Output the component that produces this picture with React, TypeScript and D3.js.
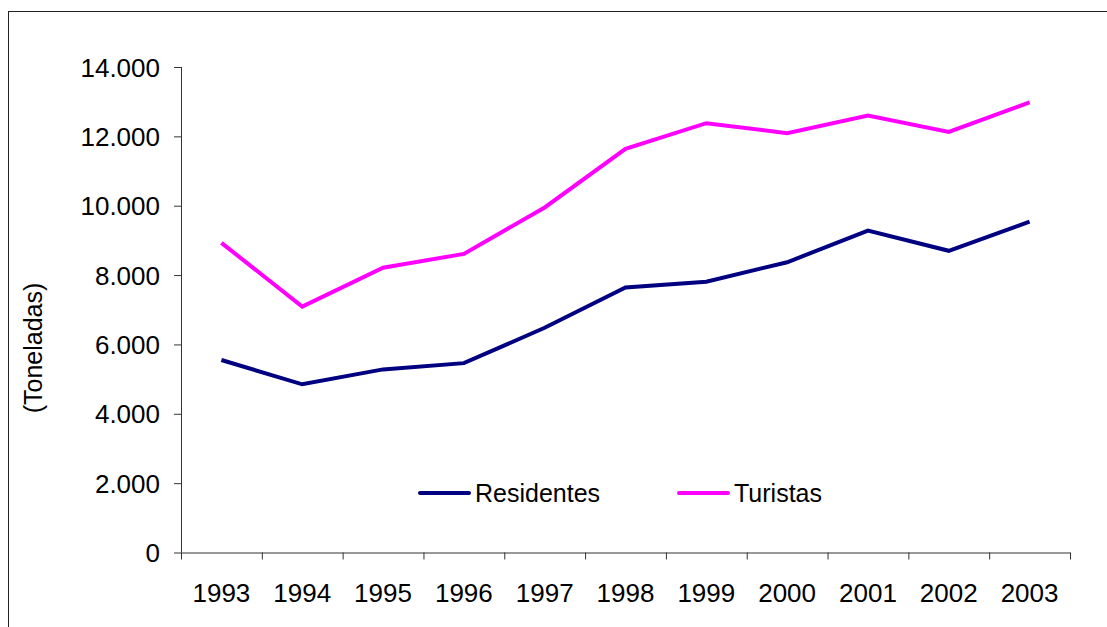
import React from 'react';
import * as d3 from 'd3';

const years = ['1993', '1994', '1995', '1996', '1997', '1998', '1999', '2000', '2001', '2002', '2003'];
const residentes = [5550, 4850, 5280, 5460, 6480, 7640, 7810, 8370, 9280, 8700, 9540];
const turistas = [8930, 7090, 8210, 8610, 9950, 11640, 12380, 12090, 12600, 12130, 12980];
const yTicks = [0, 2000, 4000, 6000, 8000, 10000, 12000, 14000];

const font = '"Liberation Sans", Arial, sans-serif';

const fmt = (v: number) => (v === 0 ? '0' : d3.format(',')(v).replace(/,/g, '.'));

const App = () => {
    const left = 181;
    const right = 1070;
    const top = 67;
    const bottom = 552.5;

    const xScale = d3.scaleBand().domain(years).range([left, right]);
    const yScale = d3.scaleLinear().domain([0, 14000]).range([bottom, top]);
    const cx = (d: string) => (xScale(d) as number) + xScale.bandwidth() / 2;

    const line = d3.line<number>()
        .x((d, i) => cx(years[i]))
        .y(d => yScale(d));

    const series = [
        { name: 'Residentes', values: residentes, color: '#000080', lx: 420 },
        { name: 'Turistas', values: turistas, color: '#FF00FF', lx: 679 },
    ];

    const boundaries = years.map(y => xScale(y) as number).concat([right]);

    return (
        <svg width={1107} height={627} style={{ position: 'absolute', left: 0, top: 0, background: '#fff' }}>
            <rect x={8.5} y={11.5} width={1120} height={640} fill="none" stroke="#222" strokeWidth={1} />

            {/* y axis */}
            <line x1={left + 0.5} x2={left + 0.5} y1={top} y2={bottom} stroke="#333" strokeWidth={1} />
            {yTicks.map(t => (
                <g key={t}>
                    <line x1={174} x2={left} y1={yScale(t) + 0.5} y2={yScale(t) + 0.5} stroke="#333" strokeWidth={1} />
                    <text x={160} y={yScale(t) + 9.5} textAnchor="end" fontFamily={font} fontSize={26} fill="#000">{fmt(t)}</text>
                </g>
            ))}

            {/* x axis */}
            <line x1={left} x2={right + 0.5} y1={bottom + 0.5} y2={bottom + 0.5} stroke="#333" strokeWidth={1} />
            {boundaries.map((b, i) => (
                <line key={i} x1={b + 0.5} x2={b + 0.5} y1={bottom} y2={bottom + 7} stroke="#333" strokeWidth={1} />
            ))}
            {years.map(y => (
                <text key={y} x={cx(y)} y={602} textAnchor="middle" fontFamily={font} fontSize={26} fill="#000">{y}</text>
            ))}

            <text transform="translate(42,348) rotate(-90)" textAnchor="middle" fontFamily={font} fontSize={25} fill="#000">(Toneladas)</text>

            {series.map(s => (
                <path key={s.name} d={line(s.values) || ''} fill="none" stroke={s.color} strokeWidth={4} strokeLinejoin="miter" />
            ))}

            {/* legend */}
            {series.map(s => (
                <g key={s.name + 'leg'}>
                    <line x1={s.lx} x2={s.lx + 49} y1={493} y2={493} stroke={s.color} strokeWidth={4} strokeLinecap="round" />
                    <text x={s.lx + 55} y={502} fontFamily={font} fontSize={25} fill="#000">{s.name}</text>
                </g>
            ))}
        </svg>
    );
};

export default App;
